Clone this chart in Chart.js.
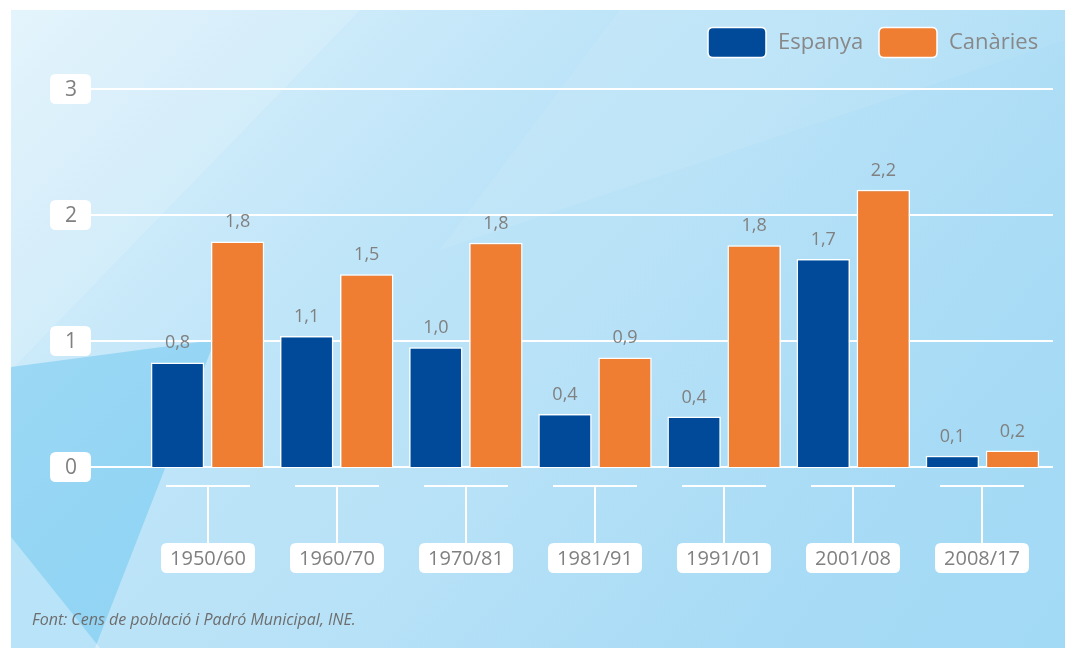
<!DOCTYPE html>
<html>
<head>
<meta charset="utf-8">
<script src="https://cdn.jsdelivr.net/npm/chart.js@4.4.1/dist/chart.umd.min.js"></script>
<style>
  html, body { margin: 0; padding: 0; background: #ffffff; }
  #wrap { width: 1065px; height: 648px; position: relative; }
</style>
</head>
<body>
<div id="wrap"><canvas id="chart" width="1065" height="648"></canvas></div>
<script>
// Dades del gràfic
const periods = ['1950/60', '1960/70', '1970/81', '1981/91', '1991/01', '2001/08', '2008/17'];
const seriesNames = ['Espanya', 'Canàries'];
const espanya = [0.83, 1.04, 0.95, 0.42, 0.40, 1.65, 0.09];
const canaries = [1.79, 1.53, 1.78, 0.87, 1.76, 2.20, 0.13];
const espanyaLabels = ['0,8', '1,1', '1,0', '0,4', '0,4', '1,7', '0,1'];
const canariesLabels = ['1,8', '1,5', '1,8', '0,9', '1,8', '2,2', '0,2'];
const yTicks = [0, 1, 2, 3];
const sourceText = 'Font: Cens de població i Padró Municipal, INE.';

const BLUE = '#004a99';
const ORANGE = '#ef7d32';
const GREY = '#808080';
const FONT = '"Open Sans", "Noto Sans", sans-serif';

function roundRect(ctx, x, y, w, h, r) {
    ctx.beginPath();
    ctx.moveTo(x + r, y);
    ctx.lineTo(x + w - r, y);
    ctx.quadraticCurveTo(x + w, y, x + w, y + r);
    ctx.lineTo(x + w, y + h - r);
    ctx.quadraticCurveTo(x + w, y + h, x + w - r, y + h);
    ctx.lineTo(x + r, y + h);
    ctx.quadraticCurveTo(x, y + h, x, y + h - r);
    ctx.lineTo(x, y + r);
    ctx.quadraticCurveTo(x, y, x + r, y);
    ctx.closePath();
}

function poly(ctx, pts, color) {
    ctx.beginPath();
    ctx.moveTo(pts[0][0], pts[0][1]);
    for (let i = 1; i < pts.length; i++) ctx.lineTo(pts[i][0], pts[i][1]);
    ctx.closePath();
    ctx.fillStyle = color;
    ctx.fill();
}

// Fons degradat amb facetes, eixos i etiquetes
const decorPlugin = {
    id: 'decor',
    beforeDraw(chart) {
        const ctx = chart.ctx;
        const W = chart.width, H = chart.height;
        ctx.save();
        ctx.fillStyle = '#ffffff';
        ctx.fillRect(0, 0, W, H);
        const g = ctx.createLinearGradient(11, 10, 700, 700);
        g.addColorStop(0, '#dff2fc');
        g.addColorStop(0.45, '#bde4f8');
        g.addColorStop(1, '#b0def6');
        ctx.fillStyle = g;
        ctx.fillRect(11, 10, W - 11, H - 10);
        // facetes
        poly(ctx, [[11, 10], [360, 10], [11, 370]], 'rgba(255,255,255,0.15)');
        poly(ctx, [[620, 10], [1065, 10], [1065, 40], [440, 250]], 'rgba(255,255,255,0.08)');
        poly(ctx, [[11, 367], [215, 340], [95, 648], [11, 648]], 'rgba(105,198,240,0.5)');
        poly(ctx, [[11, 537], [100, 648], [11, 648]], 'rgba(255,255,255,0.35)');
        const g2 = ctx.createLinearGradient(600, 300, 1065, 648);
        g2.addColorStop(0, 'rgba(150,213,244,0)');
        g2.addColorStop(1, 'rgba(150,213,244,0.55)');
        ctx.fillStyle = g2;
        ctx.fillRect(11, 10, W - 11, H - 10);

        // línies de la graella i caixes de l'eix Y
        const y = chart.scales.y;
        ctx.strokeStyle = '#ffffff';
        ctx.lineWidth = 2;
        yTicks.forEach(t => {
            const py = Math.round(y.getPixelForValue(t));
            ctx.beginPath();
            ctx.moveTo(91, py);
            ctx.lineTo(1053, py);
            ctx.stroke();
            ctx.fillStyle = '#ffffff';
            roundRect(ctx, 50, py - 15, 41, 30, 6);
            ctx.fill();
            ctx.fillStyle = GREY;
            ctx.font = '21px ' + FONT;
            ctx.textAlign = 'center';
            ctx.textBaseline = 'middle';
            ctx.fillText(String(t), 71, py + 1);
        });

        // claudàtors i etiquetes de l'eix X
        const x = chart.scales.x;
        periods.forEach((p, i) => {
            const px = Math.round(x.getPixelForValue(i));
            ctx.strokeStyle = '#ffffff';
            ctx.lineWidth = 2;
            ctx.beginPath();
            ctx.moveTo(px - 42, 486);
            ctx.lineTo(px + 42, 486);
            ctx.moveTo(px, 486);
            ctx.lineTo(px, 544);
            ctx.stroke();
            ctx.fillStyle = '#ffffff';
            roundRect(ctx, px - 47, 543, 94, 30, 6);
            ctx.fill();
            ctx.fillStyle = GREY;
            ctx.font = '20px ' + FONT;
            ctx.textAlign = 'center';
            ctx.textBaseline = 'middle';
            ctx.fillText(p, px, 559);
        });

        // llegenda
        const legend = [[708, seriesNames[0], BLUE], [879, seriesNames[1], ORANGE]];
        legend.forEach(([lx, name, col]) => {
            roundRect(ctx, lx, 27.5, 58, 30, 5);
            ctx.fillStyle = col;
            ctx.fill();
            ctx.strokeStyle = '#ffffff';
            ctx.lineWidth = 1.5;
            ctx.stroke();
            ctx.fillStyle = '#888888';
            ctx.font = '22px ' + FONT;
            ctx.textAlign = 'left';
            ctx.textBaseline = 'middle';
            ctx.fillText(name, lx + 70, 43);
        });

        // font
        ctx.fillStyle = '#6e6e6e';
        ctx.font = 'italic 16px ' + FONT;
        ctx.textAlign = 'left';
        ctx.textBaseline = 'alphabetic';
        ctx.fillText(sourceText, 32, 625);
        ctx.restore();
    },
    afterDatasetsDraw(chart) {
        const ctx = chart.ctx;
        const labelSets = [espanyaLabels, canariesLabels];
        ctx.save();
        ctx.fillStyle = GREY;
        ctx.font = '18px ' + FONT;
        ctx.textAlign = 'center';
        ctx.textBaseline = 'alphabetic';
        chart.data.datasets.forEach((ds, di) => {
            const meta = chart.getDatasetMeta(di);
            meta.data.forEach((bar, i) => {
                ctx.fillText(labelSets[di][i], bar.x, bar.y - 14);
            });
        });
        ctx.restore();
    }
};

new Chart(document.getElementById('chart'), {
    type: 'bar',
    data: {
        labels: periods,
        datasets: [
            {
                label: seriesNames[0],
                data: espanya,
                backgroundColor: BLUE,
                borderColor: '#ffffff',
                borderWidth: 1.5,
                categoryPercentage: 0.93,
                barPercentage: 0.89
            },
            {
                label: seriesNames[1],
                data: canaries,
                backgroundColor: ORANGE,
                borderColor: '#ffffff',
                borderWidth: 1.5,
                categoryPercentage: 0.93,
                barPercentage: 0.89
            }
        ]
    },
    options: {
        responsive: false,
        animation: false,
        devicePixelRatio: 1,
        layout: {
            padding: { left: 143, right: 18, top: 89, bottom: 181 }
        },
        plugins: {
            legend: { display: false },
            tooltip: { enabled: false }
        },
        scales: {
            x: { display: false, offset: true },
            y: { display: false, min: 0, max: 3 }
        }
    },
    plugins: [decorPlugin]
});
</script>
</body>
</html>
